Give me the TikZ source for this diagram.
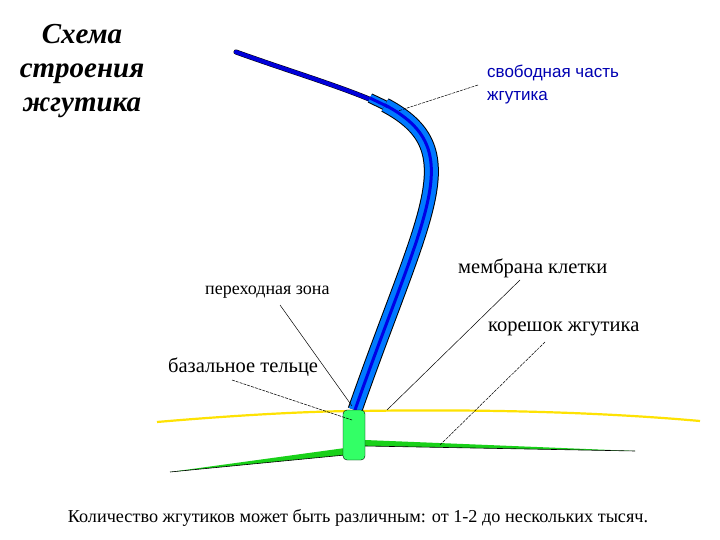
\documentclass[tikz,border=0pt]{standalone}
\usepackage{fontspec}
\setmainfont{Liberation Serif}
\newfontfamily\labsans{Liberation Sans}
\begin{document}
\begin{tikzpicture}[x=1pt,y=-1pt,
  lab/.style={font=\fontsize{20.5}{22}\selectfont, anchor=west, inner sep=0},
  lead/.style={black, line width=0.5pt},
  dlead/.style={black, line width=0.5pt, dash pattern=on 3pt off 1pt}]
\useasboundingbox[fill=white] (0,0) rectangle (720,540);
% membrane
\draw[yellow!85!orange, line width=2.2pt] (157,422) .. controls (250,414) and (320,411) .. (360,411) .. controls (480,409) and (600,412) .. (700,421);
% roots
\fill[green!80!black!90] (345,448) -- (170,472) -- (345,455) -- cycle;
\draw[black, line width=0.6pt] (345,455) -- (170,472);
\fill[green!80!black!90] (365,440) -- (635,451) -- (365,446) -- cycle;
\draw[black, line width=0.6pt] (365,446) -- (635,451);
% flagellum
\draw[black, line width=5pt, line cap=round] (236,52) .. controls (300,75) and (360,92) .. (397,112);
\draw[blue!85!black, line width=4pt, line cap=round] (236,52) .. controls (300,75) and (360,92) .. (397,112);
\draw[black, line width=10pt] (370,98) .. controls (380,103) and (385,105) .. (388,107);
\draw[blue!40!cyan!80!blue, line width=8pt] (370,98) .. controls (380,103) and (385,105) .. (388,107);
\draw[black, line width=15pt] (385,105) .. controls (470,150) and (425,210) .. (355,410);
\draw[blue!40!cyan!80!blue, line width=13pt] (385,105) .. controls (470,150) and (425,210) .. (355,410);
\draw[blue!90!black, line width=3pt] (370,98) .. controls (380,103) and (385,105) .. (388,107);
\draw[blue!90!black, line width=3pt] (385,105) .. controls (470,150) and (425,210) .. (355,410);
% basal body
\node[draw=black, fill=green!75!cyan!80, rounded corners=4pt, minimum width=22pt, minimum height=50pt, inner sep=0] (bb) at (354,435) {};
% title
\node[font=\fontsize{29}{34}\selectfont\bfseries\itshape, align=center] (title) at (82,71) {Схема\\строения\\жгутика};
% labels
\node[lab, font=\labsans\fontsize{17}{23}\selectfont, text=blue!70!black, align=left] (free) at (487,85) {свободная часть\\жгутика};
\node[lab] (mem) at (458,268) {мембрана клетки};
\node[lab, font=\fontsize{18}{20}\selectfont] (trans) at (205,292) {переходная зона};
\node[lab] (root) at (488,329) {корешок жгутика};
\node[lab] (basal) at (168,367) {базальное тельце};
\node[font=\fontsize{18.2}{20}\selectfont] (note) at (358,518) {Количество жгутиков может быть различным: от 1-2 до нескольких тысяч.};
% leaders
\coordinate (p1) at (398,111);
\coordinate (p2) at (387,410);
\coordinate (p3) at (352,406);
\coordinate (p4) at (440,445);
\coordinate (p5) at (352,420);
\coordinate (f0) at (478,85);
\coordinate (m0) at (520,280);
\coordinate (t0) at (280,305);
\coordinate (r0) at (545,342);
\coordinate (b0) at (232,380);
\draw[dlead] (f0) -- (p1);
\draw[lead] (m0) -- (p2);
\draw[lead] (t0) -- (p3);
\draw[dlead] (r0) -- (p4);
\draw[dlead] (b0) -- (p5);
\end{tikzpicture}
\end{document}
